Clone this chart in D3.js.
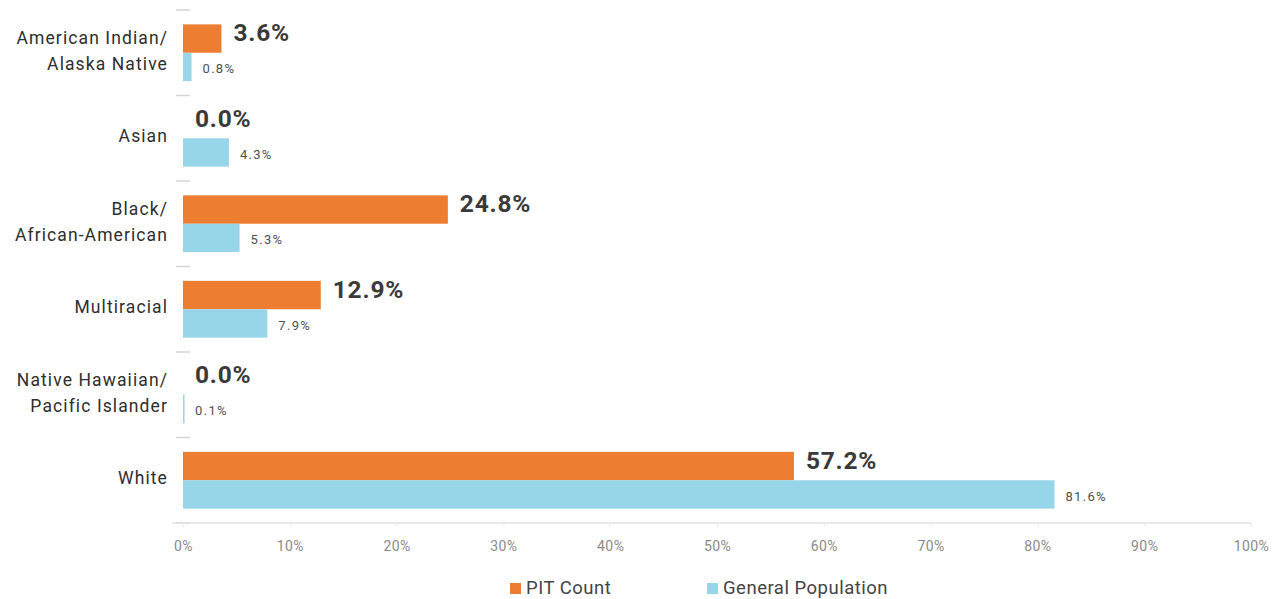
<!DOCTYPE html>
<html>
<head>
<meta charset="utf-8">
<script src="https://cdn.jsdelivr.net/npm/d3@7"></script>
<style>
  html, body { margin: 0; padding: 0; background: #fff; }
  svg { display: block; font-family: Roboto, "Noto Sans", sans-serif; }
</style>
</head>
<body>
<svg id="chart" width="1282" height="599"></svg>
<script>
// Race / ethnicity shares: PIT count vs. general population (%)
const categories = [
  ["American Indian/", "Alaska Native"],
  ["Asian"],
  ["Black/", "African-American"],
  ["Multiracial"],
  ["Native Hawaiian/", "Pacific Islander"],
  ["White"]
];
const pitCount = [3.6, 0.0, 24.8, 12.9, 0.0, 57.2];
const generalPopulation = [0.8, 4.3, 5.3, 7.9, 0.1, 81.6];
const seriesNames = ["PIT Count", "General Population"];
const seriesColors = ["#ED7D31", "#97D6E9"];
const xTicks = [0, 10, 20, 30, 40, 50, 60, 70, 80, 90, 100];

const svg = d3.select("#chart");
const catKeys = categories.map(c => c.join(" "));

const x = d3.scaleLinear().domain([0, 100]).range([183, 1251]);
const y = d3.scaleBand().domain(catKeys).range([10, 523]).padding(0);
const sub = d3.scaleBand().domain(seriesNames)
  .range([y.bandwidth() * 0.168, y.bandwidth() * 0.832]).padding(0);

// Band separator ticks on the category axis
const seps = catKeys.map(k => y(k)).concat([y.range()[1]]);
svg.append("g").selectAll("line").data(seps).join("line")
  .attr("x1", 176).attr("x2", 190)
  .attr("y1", d => d).attr("y2", d => d)
  .attr("stroke", "#d4d4d4").attr("stroke-width", 1.5);

// Bottom value axis
const xAxis = svg.append("g").attr("transform", `translate(0,${y.range()[1]})`)
  .call(d3.axisBottom(x).tickValues(xTicks).tickSize(4).tickPadding(14)
    .tickFormat(d => d + "%"));
xAxis.select(".domain").remove();
xAxis.insert("line", ":first-child")
  .attr("x1", 172).attr("x2", 1251).attr("y1", 0).attr("y2", 0)
  .attr("stroke", "#e2e2e2").attr("stroke-width", 1.5);
xAxis.selectAll(".tick line").attr("stroke", "#ececec");
xAxis.selectAll(".tick text")
  .attr("fill", "#8a8a8a").attr("font-size", 14).attr("letter-spacing", 0.4)
  .attr("font-family", "Roboto, sans-serif");

// Category labels
const catG = svg.append("g");
categories.forEach((lines, i) => {
  const cy = y(catKeys[i]) + y.bandwidth() / 2 - 2;
  const lh = 25.5;
  const t = catG.append("text")
    .attr("x", 168).attr("text-anchor", "end")
    .attr("fill", "#2e2e2e").attr("font-size", 17.5).attr("letter-spacing", 1.1);
  lines.forEach((ln, j) => {
    t.append("tspan").attr("x", 168)
      .attr("y", cy + (j - (lines.length - 1) / 2) * lh)
      .attr("dy", "0.35em").text(ln);
  });
});

// Bars
const rows = catKeys.map((k, i) => ({ key: k, values: [pitCount[i], generalPopulation[i]] }));
const groups = svg.append("g").selectAll("g").data(rows).join("g")
  .attr("transform", d => `translate(0,${y(d.key)})`);

groups.selectAll("rect")
  .data(d => d.values.map((v, s) => ({ v, s })))
  .join("rect")
  .attr("x", x(0))
  .attr("y", d => sub(seriesNames[d.s]))
  .attr("width", d => Math.max(0, x(d.v) - x(0)))
  .attr("height", sub.bandwidth())
  .attr("fill", d => seriesColors[d.s]);

// Very small positive values still get a visible hairline
groups.selectAll("line.hair")
  .data(d => d.values.map((v, s) => ({ v, s })).filter(e => e.v > 0 && x(e.v) - x(0) < 2))
  .join("line").attr("class", "hair")
  .attr("x1", x(0) + 0.75).attr("x2", x(0) + 0.75)
  .attr("y1", d => sub(seriesNames[d.s]))
  .attr("y2", d => sub(seriesNames[d.s]) + sub.bandwidth())
  .attr("stroke", d => seriesColors[d.s]).attr("stroke-width", 1.5);

// Value labels
groups.selectAll("text.val")
  .data(d => d.values.map((v, s) => ({ v, s })))
  .join("text").attr("class", "val")
  .attr("x", d => x(d.v) + (d.s === 0 ? 12 : 11))
  .attr("y", d => sub(seriesNames[d.s]) + sub.bandwidth() / 2 + (d.s === 0 ? -6 : 2))
  .attr("dy", "0.35em")
  .attr("fill", d => d.s === 0 ? "#3a3a3a" : "#505050")
  .attr("font-size", d => d.s === 0 ? 24.5 : 13)
  .attr("font-weight", d => d.s === 0 ? 700 : 400)
  .attr("letter-spacing", d => d.s === 0 ? 0.8 : 1.3)
  .text(d => d.v.toFixed(1) + "%");

// Legend
const legend = svg.append("g");
const legendX = [510, 707];
seriesNames.forEach((name, i) => {
  legend.append("rect").attr("x", legendX[i]).attr("y", 583)
    .attr("width", 11).attr("height", 11).attr("fill", seriesColors[i]);
  legend.append("text").attr("x", legendX[i] + 16).attr("y", 587.5)
    .attr("dy", "0.35em").attr("fill", "#444").attr("font-size", 18.5)
    .attr("letter-spacing", 0.5).text(name);
});
</script>
</body>
</html>
